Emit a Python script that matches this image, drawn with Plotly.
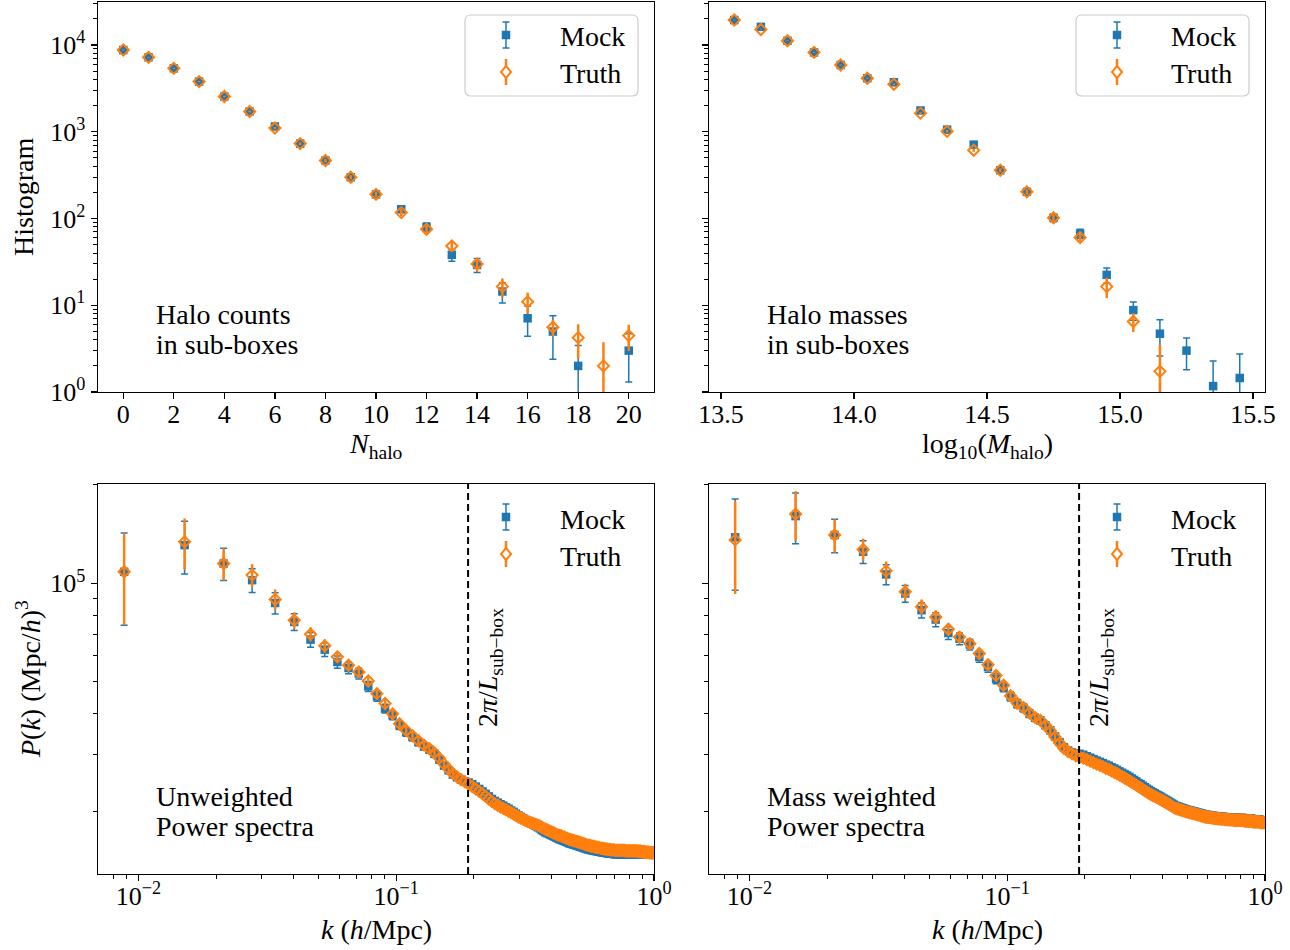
import math
import plotly.graph_objects as go

# ------------------------------------------------------------------ data
BLUE = "#1f77b4"
ORANGE = "#ff7f0e"

# Top-left: halo counts in sub-boxes
N_HALO = [0, 1, 2, 3, 4, 5, 6, 7, 8, 9, 10, 11, 12, 13, 14, 15, 16, 17, 18, 19, 20]
HIST_N_MOCK = [8750, 7210, 5385, 3790, 2550, 1714, 1150, 730, 466, 299, 190, 128, 79.8,
               38.1, 29.2, 14.4, 7.08, 4.98, 2.0, None, 3.0]
HIST_N_MOCK_ERR = [94, 85, 73, 62, 50, 41, 34, 27, 22, 17, 14, 11, 9, 5.9, 5.4, 3.8, 2.7,
                   2.6, 1.43, None, 1.7]
HIST_N_TRUTH = [8750, 7210, 5385, 3790, 2550, 1714, 1105, 730, 466, 299, 190, 117, 75.1,
                48.3, 29.8, 16.4, 11.0, 5.57, 4.23, 2.0, 4.47]
HIST_N_TRUTH_ERR = [94, 85, 73, 62, 50, 41, 33, 27, 22, 17, 14, 11, 8.7, 6.4, 5.5, 4.0, 3.0,
                    1.2, 1.8, 1.75, 1.5]

# Top-right: halo masses in sub-boxes
LOG_M = [13.55, 13.65, 13.75, 13.85, 13.95, 14.05, 14.15, 14.25, 14.35, 14.45,
         14.55, 14.65, 14.75, 14.85, 14.95, 15.05, 15.15, 15.25, 15.35, 15.45]
HIST_M_MOCK = [19400, 16200, 11200, 8220, 5890, 4140, 3720, 1760, 1057, 711,
               360, 203, 102, 67, 22.4, 8.8, 4.7, 3.0, 1.17, 1.45]
HIST_M_MOCK_ERR = [139, 127, 106, 91, 77, 64, 61, 42, 32.5, 26.7,
                   19, 14.2, 10, 8.2, 4.5, 2.1, 2.1, 1.2, 1.1, 1.3]
HIST_M_TRUTH = [19400, 15100, 11200, 8220, 5890, 4140, 3530, 1640, 1012, 612,
                360, 203, 102, 60.3, 16.4, 6.5, 1.73, None, None, None]
HIST_M_TRUTH_ERR = [139, 123, 106, 91, 77, 64, 59, 40, 31.8, 24.7,
                    19, 14.2, 10, 7.8, 4.3, 1.6, 1.77, None, None, None]

# Bottom: power spectra, P(k) in units of 1e3 (Mpc/h)^3
PK_UNIT = 1000.0
K_BINS = [
    0.0088, 0.0151, 0.0214, 0.0276, 0.0339, 0.0402, 0.0465, 0.0528, 0.0591, 0.0653,
    0.0716, 0.0779, 0.0842, 0.0905, 0.0968, 0.1030, 0.1093, 0.1156, 0.1219, 0.1282,
    0.1345, 0.1407, 0.1470, 0.1533, 0.1596, 0.1659, 0.1722, 0.1784, 0.1847, 0.1910,
    0.1973, 0.2036, 0.2099, 0.2161, 0.2224, 0.2287, 0.2350, 0.2413, 0.2476, 0.2538,
    0.2601, 0.2664, 0.2727, 0.2790, 0.2853, 0.2915, 0.2978, 0.3041, 0.3104, 0.3167,
    0.3230, 0.3292, 0.3355, 0.3418, 0.3481, 0.3544, 0.3606, 0.3669, 0.3732, 0.3795,
    0.3858, 0.3921, 0.3983, 0.4046, 0.4109, 0.4172, 0.4235, 0.4298, 0.4360, 0.4423,
    0.4486, 0.4549, 0.4612, 0.4675, 0.4737, 0.4800, 0.4863, 0.4926, 0.4989, 0.5052,
    0.5114, 0.5177, 0.5240, 0.5303, 0.5366, 0.5429, 0.5491, 0.5554, 0.5617, 0.5680,
    0.5743, 0.5806, 0.5868, 0.5931, 0.5994, 0.6057, 0.6120, 0.6183, 0.6245, 0.6308,
    0.6371, 0.6434, 0.6497, 0.6559, 0.6622, 0.6685, 0.6748, 0.6811, 0.6874, 0.6936,
    0.6999, 0.7062, 0.7125, 0.7188, 0.7251, 0.7313, 0.7376, 0.7439, 0.7502, 0.7565,
    0.7628, 0.7690, 0.7753, 0.7816, 0.7879, 0.7942, 0.8005, 0.8067, 0.8130, 0.8193,
    0.8256, 0.8319, 0.8382, 0.8444, 0.8507, 0.8570, 0.8633, 0.8696, 0.8759, 0.8821,
    0.8884, 0.8947, 0.9010, 0.9073, 0.9136, 0.9198, 0.9261, 0.9324, 0.9387, 0.9450,
    0.9513, 0.9575, 0.9638, 0.9701, 0.9764, 0.9827, 0.9889, 0.9952]

UNW_MOCK = [
    108.5, 130.9, 115.0, 102.3, 87.1, 76.2, 67.3, 62.7, 57.5, 55.1,
    53.0, 48.4, 45.1, 41.4, 39.5, 36.8, 35.1, 33.9, 32.7, 31.7,
    31.0, 30.1, 28.9, 27.7, 26.8, 26.0, 25.5, 25.1, 24.8, 24.6,
    24.3, 23.9, 23.5, 23.1, 22.7, 22.3, 21.9, 21.6, 21.35, 21.1,
    20.9, 20.65, 20.45, 20.2, 20.0, 19.75, 19.5, 19.3, 19.1, 18.9,
    18.7, 18.55, 18.4, 18.25, 18.1, 17.95, 17.8, 17.6, 17.45, 17.3,
    17.2, 17.1, 17.0, 16.9, 16.8, 16.7, 16.6, 16.5, 16.45, 16.35,
    16.3, 16.2, 16.15, 16.05, 16.0, 15.95, 15.9, 15.85, 15.8, 15.75,
    15.7, 15.65, 15.6, 15.55, 15.5, 15.45, 15.4, 15.35, 15.35, 15.3,
    15.25, 15.25, 15.2, 15.2, 15.15, 15.15, 15.1, 15.1, 15.05, 15.05,
    15.0, 15.0, 15.0, 14.95, 14.95, 14.95, 14.9, 14.9, 14.9, 14.9,
    14.85, 14.85, 14.85, 14.85, 14.85, 14.85, 14.85, 14.85, 14.85, 14.85,
    14.85, 14.85, 14.8, 14.8, 14.8, 14.8, 14.8, 14.8, 14.8, 14.8,
    14.8, 14.8, 14.8, 14.8, 14.8, 14.8, 14.8, 14.8, 14.8, 14.8,
    14.8, 14.8, 14.8, 14.8, 14.8, 14.8, 14.8, 14.8, 14.8, 14.8,
    14.8, 14.8, 14.8, 14.8, 14.8, 14.8, 14.8, 14.8]
UNW_TRUTH = [
    108.5, 134.0, 115.0, 106.0, 89.3, 77.1, 69.9, 64.4, 59.6, 56.2,
    53.6, 50.3, 46.0, 42.9, 39.9, 37.2, 35.5, 34.2, 33.0, 32.0,
    31.2, 30.3, 29.2, 28.0, 27.0, 26.2, 25.6, 25.1, 24.7, 24.3,
    23.9, 23.5, 23.1, 22.7, 22.3, 21.9, 21.5, 21.2, 20.95, 20.7,
    20.5, 20.3, 20.1, 19.9, 19.7, 19.5, 19.3, 19.15, 19.0, 18.85,
    18.7, 18.6, 18.5, 18.4, 18.3, 18.2, 18.1, 17.95, 17.8, 17.7,
    17.6, 17.5, 17.4, 17.3, 17.2, 17.1, 17.0, 16.95, 16.9, 16.8,
    16.75, 16.65, 16.6, 16.5, 16.45, 16.4, 16.35, 16.3, 16.25, 16.2,
    16.15, 16.1, 16.05, 16.0, 15.95, 15.9, 15.85, 15.8, 15.8, 15.75,
    15.7, 15.7, 15.65, 15.6, 15.6, 15.55, 15.55, 15.5, 15.5, 15.45,
    15.45, 15.4, 15.4, 15.4, 15.35, 15.35, 15.35, 15.3, 15.3, 15.3,
    15.3, 15.25, 15.25, 15.25, 15.25, 15.25, 15.25, 15.25, 15.25, 15.25,
    15.25, 15.25, 15.2, 15.2, 15.2, 15.2, 15.2, 15.2, 15.2, 15.2,
    15.2, 15.2, 15.2, 15.2, 15.2, 15.2, 15.15, 15.15, 15.15, 15.15,
    15.15, 15.1, 15.1, 15.1, 15.1, 15.1, 15.05, 15.05, 15.05, 15.05,
    15.05, 15.0, 15.0, 15.0, 15.0, 15.0, 15.0, 15.0]
UNW_ERR = [
    34, 24, 13, 8.5, 6.5, 4.5, 3.5, 3.0, 2.5, 2.2,
    2.0, 1.7, 1.5, 1.3, 1.2, 1.1, 1.0, 0.9, 0.85, 0.8,
    0.75, 0.7, 0.65, 0.6, 0.55, 0.5, 0.48, 0.46, 0.44, 0.42,
    0.40, 0.38, 0.36, 0.35, 0.34, 0.33, 0.32, 0.31, 0.30, 0.29,
    0.28, 0.27, 0.27, 0.26, 0.26, 0.25, 0.25, 0.24, 0.24, 0.23,
    0.23, 0.22, 0.22, 0.21, 0.21, 0.20, 0.20, 0.20, 0.19, 0.19,
    0.19, 0.18, 0.18, 0.18, 0.17, 0.17, 0.17, 0.16, 0.16, 0.16,
    0.16, 0.15, 0.15, 0.15, 0.15, 0.14, 0.14, 0.14, 0.14, 0.14,
    0.13, 0.13, 0.13, 0.13, 0.13, 0.13, 0.13, 0.13, 0.13, 0.13,
    0.12, 0.12, 0.12, 0.12, 0.12, 0.12, 0.12, 0.12, 0.12, 0.12,
    0.12, 0.12, 0.12, 0.12, 0.12, 0.11, 0.11, 0.11, 0.11, 0.11,
    0.11, 0.11, 0.11, 0.11, 0.11, 0.11, 0.11, 0.11, 0.11, 0.11,
    0.10, 0.10, 0.10, 0.10, 0.10, 0.10, 0.10, 0.10, 0.10, 0.10,
    0.10, 0.10, 0.10, 0.10, 0.10, 0.10, 0.10, 0.10, 0.10, 0.10,
    0.09, 0.09, 0.09, 0.09, 0.09, 0.09, 0.09, 0.09, 0.09, 0.09,
    0.09, 0.09, 0.09, 0.09, 0.09, 0.09, 0.09, 0.09]

MW_MOCK = [
    138.3, 160.6, 140.6, 125.0, 106.5, 93.1, 82.8, 77.5, 70.5, 67.7,
    65.0, 59.6, 55.5, 51.1, 48.2, 45.1, 42.9, 41.6, 40.0, 38.8,
    38.1, 36.8, 35.5, 34.0, 32.7, 31.5, 30.8, 30.4, 30.2, 30.1,
    29.9, 29.6, 29.3, 29.0, 28.7, 28.45, 28.2, 27.9, 27.7, 27.4,
    27.15, 26.9, 26.6, 26.35, 26.1, 25.85, 25.6, 25.3, 25.05, 24.8,
    24.5, 24.3, 24.05, 23.8, 23.55, 23.35, 23.15, 22.95, 22.8, 22.6,
    22.45, 22.3, 22.1, 21.95, 21.8, 21.65, 21.5, 21.35, 21.2, 21.05,
    20.9, 20.8, 20.75, 20.65, 20.6, 20.5, 20.45, 20.35, 20.3, 20.25,
    20.2, 20.15, 20.1, 20.05, 20.0, 19.95, 19.9, 19.85, 19.8, 19.75,
    19.7, 19.65, 19.6, 19.6, 19.55, 19.55, 19.5, 19.5, 19.45, 19.45,
    19.4, 19.4, 19.4, 19.35, 19.35, 19.35, 19.3, 19.3, 19.3, 19.3,
    19.25, 19.25, 19.25, 19.25, 19.2, 19.2, 19.2, 19.2, 19.2, 19.15,
    19.15, 19.15, 19.15, 19.15, 19.15, 19.15, 19.15, 19.15, 19.15, 19.15,
    19.15, 19.05, 19.05, 19.05, 19.05, 19.05, 19.05, 19.05, 19.05, 19.05,
    19.05, 18.95, 18.95, 18.95, 18.95, 18.95, 18.95, 18.95, 18.95, 18.95,
    18.95, 18.85, 18.85, 18.85, 18.85, 18.85, 18.85, 18.85]
MW_TRUTH = [
    135.8, 163.0, 140.6, 127.0, 109.2, 94.2, 84.8, 78.9, 72.4, 68.5,
    65.4, 61.0, 56.4, 52.3, 48.8, 45.3, 43.0, 41.7, 40.1, 38.9,
    38.1, 36.8, 35.4, 33.9, 32.5, 31.3, 30.6, 30.1, 29.7, 29.4,
    29.2, 28.9, 28.6, 28.3, 28.0, 27.75, 27.5, 27.2, 27.0, 26.7,
    26.45, 26.2, 25.9, 25.65, 25.4, 25.15, 24.9, 24.65, 24.4, 24.15,
    23.9, 23.7, 23.45, 23.2, 23.0, 22.8, 22.6, 22.45, 22.3, 22.15,
    22.0, 21.85, 21.7, 21.55, 21.4, 21.25, 21.1, 20.95, 20.8, 20.65,
    20.5, 20.45, 20.4, 20.3, 20.25, 20.2, 20.1, 20.05, 20.0, 19.95,
    19.9, 19.85, 19.8, 19.75, 19.7, 19.65, 19.6, 19.55, 19.5, 19.45,
    19.4, 19.35, 19.3, 19.3, 19.25, 19.25, 19.2, 19.2, 19.15, 19.15,
    19.1, 19.1, 19.1, 19.05, 19.05, 19.05, 19.0, 19.0, 19.0, 19.0,
    18.95, 18.95, 18.95, 18.95, 18.9, 18.9, 18.9, 18.9, 18.9, 18.85,
    18.85, 18.85, 18.85, 18.85, 18.85, 18.85, 18.85, 18.85, 18.85, 18.85,
    18.85, 18.75, 18.75, 18.75, 18.75, 18.75, 18.75, 18.75, 18.75, 18.75,
    18.75, 18.65, 18.65, 18.65, 18.65, 18.65, 18.65, 18.65, 18.65, 18.65,
    18.65, 18.55, 18.55, 18.55, 18.55, 18.55, 18.55, 18.55]
MW_ERR = [
    43, 28.5, 16.5, 10, 7.5, 5.5, 4.5, 3.8, 3.2, 2.8,
    2.5, 2.2, 2.0, 1.8, 1.6, 1.45, 1.3, 1.2, 1.1, 1.0,
    0.95, 0.9, 0.85, 0.8, 0.75, 0.7, 0.66, 0.62, 0.58, 0.55,
    0.52, 0.50, 0.48, 0.46, 0.44, 0.42, 0.41, 0.40, 0.39, 0.38,
    0.37, 0.36, 0.35, 0.34, 0.33, 0.32, 0.31, 0.30, 0.30, 0.29,
    0.29, 0.28, 0.28, 0.27, 0.27, 0.26, 0.26, 0.25, 0.25, 0.24,
    0.24, 0.24, 0.23, 0.23, 0.23, 0.22, 0.22, 0.22, 0.21, 0.21,
    0.21, 0.20, 0.20, 0.20, 0.20, 0.20, 0.20, 0.20, 0.20, 0.20,
    0.19, 0.19, 0.19, 0.19, 0.19, 0.19, 0.19, 0.19, 0.19, 0.19,
    0.18, 0.18, 0.18, 0.18, 0.18, 0.18, 0.18, 0.18, 0.18, 0.18,
    0.17, 0.17, 0.17, 0.17, 0.17, 0.17, 0.17, 0.17, 0.17, 0.17,
    0.16, 0.16, 0.16, 0.16, 0.16, 0.16, 0.16, 0.16, 0.16, 0.16,
    0.15, 0.15, 0.15, 0.15, 0.15, 0.15, 0.15, 0.15, 0.15, 0.15,
    0.15, 0.15, 0.15, 0.15, 0.15, 0.15, 0.15, 0.15, 0.15, 0.15,
    0.14, 0.14, 0.14, 0.14, 0.14, 0.14, 0.14, 0.14, 0.14, 0.14,
    0.14, 0.14, 0.14, 0.14, 0.14, 0.14, 0.14, 0.14]

K_SUB = 0.19  # 2*pi / L_sub-box

# ------------------------------------------------------------------ layout geometry
W, H = 1290, 950
FONT = "Liberation Serif, Times New Roman, serif"
FS_TICK = 26
FS_TEXT = 28
COL_L = (98, 654)
COL_R = (709, 1265)
ROW_T = (2, 392)
ROW_B = (484, 874)


def xdom(c):
    return [c[0] / W, c[1] / W]


def ydom(r):
    return [1 - r[1] / H, 1 - r[0] / H]


def px(x):
    return x / W


def py(y):
    return 1 - y / H


fig = go.Figure()


def add_pair(xv, m, me, t, te, xa, ya, scale=1.0):
    def sc(v):
        return [None if a is None else a * scale for a in v]
    fig.add_trace(go.Scatter(
        x=xv, y=sc(m), mode="markers", xaxis=xa, yaxis=ya, showlegend=False,
        marker=dict(symbol="square", size=8.5, color=BLUE, line=dict(width=0)),
        error_y=dict(type="data", array=sc(me), visible=True, color=BLUE,
                     thickness=1.5, width=3.5)))
    fig.add_trace(go.Scatter(
        x=xv, y=sc(t), mode="markers", xaxis=xa, yaxis=ya, showlegend=False,
        marker=dict(symbol="diamond-open", size=8.5, color=ORANGE,
                    line=dict(width=2, color=ORANGE)),
        error_y=dict(type="data", array=sc(te), visible=True, color=ORANGE,
                     thickness=2.5, width=0)))


add_pair(N_HALO, HIST_N_MOCK, HIST_N_MOCK_ERR, HIST_N_TRUTH, HIST_N_TRUTH_ERR, "x", "y")
add_pair(LOG_M, HIST_M_MOCK, HIST_M_MOCK_ERR, HIST_M_TRUTH, HIST_M_TRUTH_ERR, "x2", "y2")
add_pair(K_BINS, UNW_MOCK, UNW_ERR, UNW_TRUTH, UNW_ERR, "x3", "y3", PK_UNIT)
add_pair(K_BINS, MW_MOCK, MW_ERR, MW_TRUTH, MW_ERR, "x4", "y4", PK_UNIT)

tickfont = dict(family=FONT, size=FS_TICK, color="black")
common = dict(showline=True, linecolor="black", linewidth=1.4, mirror=True,
              ticks="outside", ticklen=6, tickwidth=1.3, tickcolor="black",
              showgrid=False, zeroline=False, tickfont=tickfont, automargin=False)
xcommon = dict(common, ticklabelstandoff=-8)
minor_common = dict(ticks="outside", ticklen=3.5, tickwidth=1.0, tickcolor="black",
                    showgrid=False)

hist_major = [1, 10, 100, 1000, 10000]
hist_text = ["10<sup>0</sup>", "10<sup>1</sup>", "10<sup>2</sup>", "10<sup>3</sup>", "10<sup>4</sup>"]
hist_minor = [m * d for d in (1, 10, 100, 1000) for m in range(2, 10)] + [20000, 30000]

k_major = [0.01, 0.1, 1.0]
k_text = ["10<sup>\u22122</sup>", "10<sup>\u22121</sup>", "10<sup>0</sup>"]
k_minor = [0.008, 0.009] + [m * d for d in (0.01, 0.1) for m in range(2, 10)]

p_major = [1e5]
p_text = ["10<sup>5</sup>"]
p_minor = [m * 1e4 for m in range(2, 10)] + [2e5]

HIST_RANGE = [0, 4.496]
P_RANGE = [4.111, 5.304]
K_RANGE = [-2.157, 0]

fig.update_layout(
    template="none",
    width=W, height=H, autosize=False,
    margin=dict(l=0, r=0, t=0, b=0, pad=0, autoexpand=False),
    paper_bgcolor="white", plot_bgcolor="white", showlegend=False,
    xaxis=dict(domain=xdom(COL_L), anchor="y", range=[-1, 21], tickmode="linear",
               tick0=0, dtick=2, **xcommon),
    yaxis=dict(domain=ydom(ROW_T), anchor="x", type="log", range=HIST_RANGE,
               tickmode="array", tickvals=hist_major, ticktext=hist_text,
               minor=dict(tickmode="array", tickvals=hist_minor, **minor_common), **common),
    xaxis2=dict(domain=xdom(COL_R), anchor="y2", range=[13.455, 15.545], tickmode="linear",
                tick0=13.5, dtick=0.5, tickformat=".1f", **xcommon),
    yaxis2=dict(domain=ydom(ROW_T), anchor="x2", type="log", range=HIST_RANGE,
                tickmode="array", tickvals=hist_major, showticklabels=False,
                minor=dict(tickmode="array", tickvals=hist_minor, **minor_common), **common),
    xaxis3=dict(domain=xdom(COL_L), anchor="y3", type="log", range=K_RANGE,
                tickmode="array", tickvals=k_major, ticktext=k_text,
                minor=dict(tickmode="array", tickvals=k_minor, **minor_common), **xcommon),
    yaxis3=dict(domain=ydom(ROW_B), anchor="x3", type="log", range=P_RANGE,
                tickmode="array", tickvals=p_major, ticktext=p_text,
                minor=dict(tickmode="array", tickvals=p_minor, **minor_common), **common),
    xaxis4=dict(domain=xdom(COL_R), anchor="y4", type="log", range=K_RANGE,
                tickmode="array", tickvals=k_major, ticktext=k_text,
                minor=dict(tickmode="array", tickvals=k_minor, **minor_common), **xcommon),
    yaxis4=dict(domain=ydom(ROW_B), anchor="x4", type="log", range=P_RANGE,
                tickmode="array", tickvals=p_major, showticklabels=False,
                minor=dict(tickmode="array", tickvals=p_minor, **minor_common), **common),
)

shapes = []
annotations = []
tfont = dict(family=FONT, size=FS_TEXT, color="black")


def text(x, y, s, xanchor="center", angle=0):
    annotations.append(dict(x=px(x), y=py(y), xref="paper", yref="paper", text=s,
                            showarrow=False, xanchor=xanchor, yanchor="middle",
                            textangle=angle, font=tfont))


def P(x, y):
    return f"{px(x):.5f},{py(y):.5f}"


def legend(ax_right, ax_top, boxed):
    if boxed:
        l, r_, t, b, rad = ax_right - 189, ax_right - 16, ax_top + 13, ax_top + 94, 6
        path = (f"M {P(l + rad, t)} L {P(r_ - rad, t)} Q {P(r_, t)} {P(r_, t + rad)} "
                f"L {P(r_, b - rad)} Q {P(r_, b)} {P(r_ - rad, b)} L {P(l + rad, b)} "
                f"Q {P(l, b)} {P(l, b - rad)} L {P(l, t + rad)} Q {P(l, t)} {P(l + rad, t)} Z")
        shapes.append(dict(type="path", xref="paper", yref="paper", path=path,
                           line=dict(color="#cccccc", width=1.2),
                           fillcolor="rgba(255,255,255,0.8)"))
    gx = ax_right - 148
    my = ax_top + 33
    ty = ax_top + 70
    ln = dict(type="line", xref="paper", yref="paper")
    shapes.append(dict(ln, x0=px(gx), x1=px(gx), y0=py(my - 13), y1=py(my + 13),
                       line=dict(color=BLUE, width=1.5)))
    for yy in (my - 13, my + 13):
        shapes.append(dict(ln, x0=px(gx - 3.5), x1=px(gx + 3.5), y0=py(yy), y1=py(yy),
                           line=dict(color=BLUE, width=1.5)))
    shapes.append(dict(type="rect", xref="paper", yref="paper", x0=px(gx - 4.25),
                       x1=px(gx + 4.25), y0=py(my - 4.25), y1=py(my + 4.25),
                       fillcolor=BLUE, line=dict(width=0)))
    shapes.append(dict(ln, x0=px(gx), x1=px(gx), y0=py(ty - 13), y1=py(ty + 13),
                       line=dict(color=ORANGE, width=2.5)))
    dpath = f"M {P(gx, ty - 6)} L {P(gx + 5, ty)} L {P(gx, ty + 6)} L {P(gx - 5, ty)} Z"
    shapes.append(dict(type="path", xref="paper", yref="paper", path=dpath,
                       fillcolor="white", line=dict(color=ORANGE, width=2)))
    text(ax_right - 96, ax_top + 35, "Mock", xanchor="left")
    text(ax_right - 96, ax_top + 72, "Truth", xanchor="left")


legend(COL_L[1], ROW_T[0], True)
legend(COL_R[1], ROW_T[0], True)
legend(COL_L[1], ROW_B[0], False)
legend(COL_R[1], ROW_B[0], False)

# dashed lines at 2pi/L_sub-box
for xa, ya in (("x3", "y3"), ("x4", "y4")):
    shapes.append(dict(type="line", xref=xa, yref=ya + " domain", x0=K_SUB, x1=K_SUB,
                       y0=0, y1=1, line=dict(color="black", width=2, dash="7px,4px")))
    annotations.append(dict(x=math.log10(K_SUB), xref=xa, y=py(668), yref="paper",
                            xshift=21, text="2<i>\u03c0</i>/<i>L</i><sub>sub\u2212box</sub>",
                            showarrow=False, textangle=-90, xanchor="center",
                            yanchor="middle", font=tfont))

# panel descriptions
for (col, row, l1, l2) in ((COL_L, ROW_T, "Halo counts", "in sub-boxes"),
                           (COL_R, ROW_T, "Halo masses", "in sub-boxes"),
                           (COL_L, ROW_B, "Unweighted", "Power spectra"),
                           (COL_R, ROW_B, "Mass weighted", "Power spectra")):
    x0 = col[0] + 0.1 * (col[1] - col[0])
    text(x0, row[0] + 312, l1, xanchor="left")
    text(x0, row[0] + 342, l2, xanchor="left")

# axis titles
text(23, (ROW_T[0] + ROW_T[1]) / 2, "Histogram", angle=-90)
text(28, (ROW_B[0] + ROW_B[1]) / 2, "<i>P</i>(<i>k</i>) (Mpc/<i>h</i>)<sup>3</sup>", angle=-90)
text((COL_L[0] + COL_L[1]) / 2, 446, "<i>N</i><sub>halo</sub>")
text((COL_R[0] + COL_R[1]) / 2, 446, "log<sub>10</sub>(<i>M</i><sub>halo</sub>)")
text((COL_L[0] + COL_L[1]) / 2, 929, "<i>k</i> (<i>h</i>/Mpc)")
text((COL_R[0] + COL_R[1]) / 2, 929, "<i>k</i> (<i>h</i>/Mpc)")

fig.update_layout(shapes=shapes, annotations=annotations)
fig.write_html("out.html", config={"displayModeBar": False, "staticPlot": True},
               post_script="document.body.style.margin='0px';document.body.style.overflow='hidden';")
